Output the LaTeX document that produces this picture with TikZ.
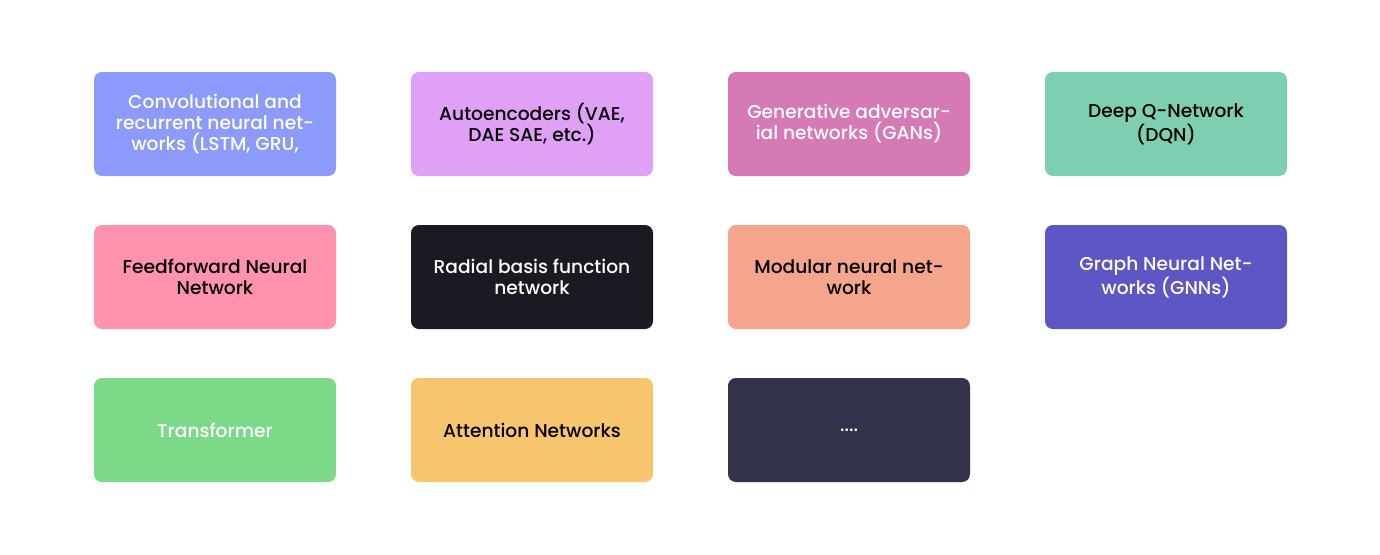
\documentclass[tikz,border=0pt]{standalone}
\usepackage{fontspec}
\setmainfont{Poppins}[UprightFont=* Medium]
\usepackage{xcolor}
\usetikzlibrary{positioning}

\definecolor{cnnblue}{HTML}{8C9AFB}
\definecolor{aepink}{HTML}{E0A0F5}
\definecolor{ganmagenta}{HTML}{D57AB5}
\definecolor{dqngreen}{HTML}{7ECFB2}
\definecolor{ffnrose}{HTML}{FF92AE}
\definecolor{rbfblack}{HTML}{1B1A22}
\definecolor{modsalmon}{HTML}{F4A58C}
\definecolor{gnnviolet}{HTML}{5D56C4}
\definecolor{trfgreen}{HTML}{7BD987}
\definecolor{attnyellow}{HTML}{F7C56D}
\definecolor{moreslate}{HTML}{32334A}

\begin{document}
\begin{tikzpicture}[
    card/.style={rounded corners=4.5pt, minimum width=4.84cm, minimum height=2.08cm, align=center, font=\fontsize{10.6}{11.9}\selectfont, inner sep=0pt},
    light/.style={text=white},
    dark/.style={text=black},
]
\useasboundingbox (0,0) rectangle (27.6,-11.08);

% first row
\node[card, fill=cnnblue, light] (cnn) at (4.3,-2.48)
    {Convolutional and\\recurrent neural net-\\works (LSTM, GRU,};
\node[card, fill=aepink, dark] (ae) at (10.64,-2.48)
    {Autoencoders (VAE,\\DAE SAE, etc.)};
\node[card, fill=ganmagenta, light] (gan) at (16.98,-2.48)
    {Generative adversar-\\ial networks (GANs)};
\node[card, fill=dqngreen, dark] (dqn) at (23.32,-2.48)
    {Deep Q-Network\\(DQN)};

% second row
\node[card, fill=ffnrose, dark] (ffn) at (4.3,-5.54)
    {Feedforward Neural\\Network};
\node[card, fill=rbfblack, light] (rbf) at (10.64,-5.54)
    {Radial basis function\\network};
\node[card, fill=modsalmon, dark] (mod) at (16.98,-5.54)
    {Modular neural net-\\work};
\node[card, fill=gnnviolet, light] (gnn) at (23.32,-5.54)
    {Graph Neural Net-\\works (GNNs)};

% third row
\node[card, fill=trfgreen, light] (trf) at (4.3,-8.6) {Transformer};
\node[card, fill=attnyellow, dark] (attn) at (10.64,-8.6) {Attention Networks};
\node[card, fill=moreslate, light] (more) at (16.98,-8.6) {....};

\end{tikzpicture}
\end{document}
